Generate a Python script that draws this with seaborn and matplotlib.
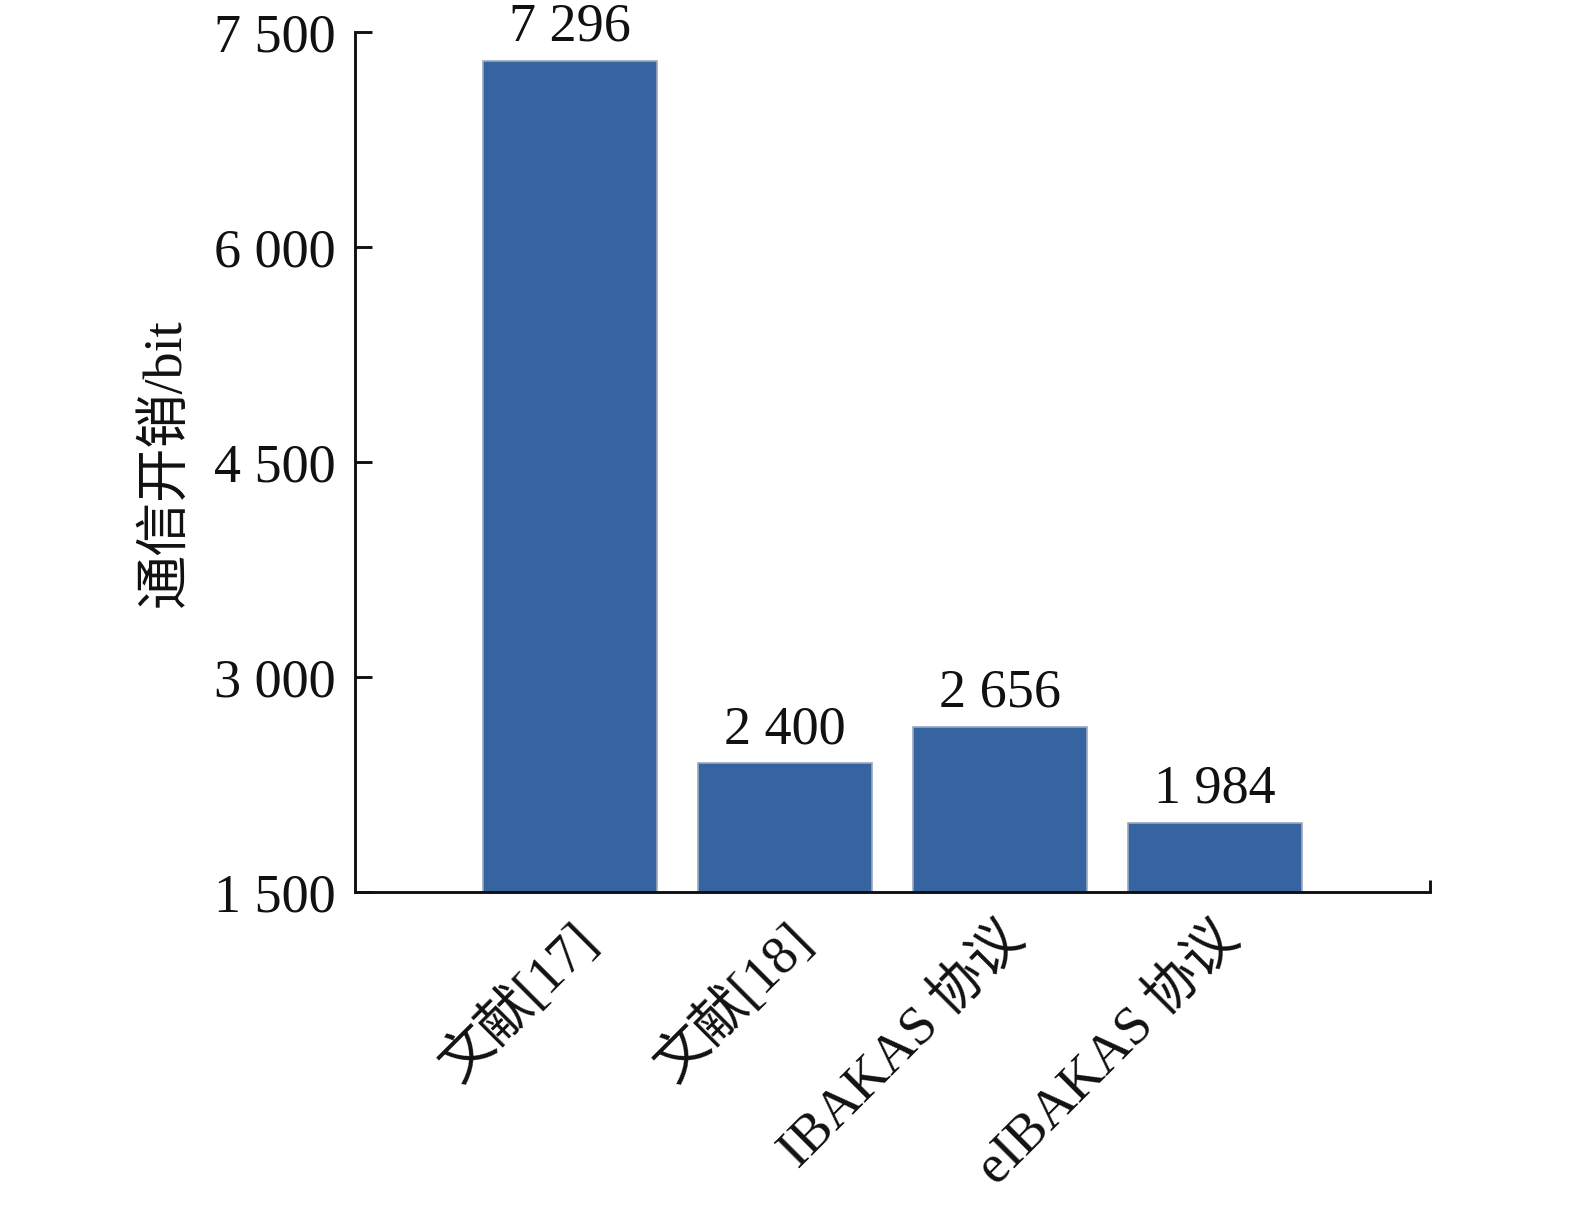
import matplotlib
matplotlib.use("Agg")
import matplotlib.pyplot as plt
import seaborn as sns
import pandas as pd

# data
methods = ["文献[17]", "文献[18]", "IBAKAS 协议", "eIBAKAS 协议"]
overhead = [7296, 2400, 2656, 1984]
y_ticks = [1500, 3000, 4500, 6000, 7500]

BAR_COLOR = "#3564a0"
INK = "#111111"


def fmt(v):
    return f"{v:,}".replace(",", " ")


sns.set_theme(style="ticks")
plt.rcParams["font.family"] = ["Liberation Serif", "Noto Sans CJK SC"]

df = pd.DataFrame({"method": methods, "overhead": overhead})

fig = plt.figure(figsize=(15.75, 12.06), dpi=100)
ax = fig.add_axes([0.2254, 0.2600, 0.9079 - 0.2254, 0.9735 - 0.2600])

sns.barplot(data=df, x="method", y="overhead", color=BAR_COLOR, width=0.81,
            saturation=1, edgecolor="#9aa8bd", linewidth=1.2, ax=ax)

ax.bar_label(ax.containers[0], labels=[fmt(v) for v in overhead],
             padding=6, fontsize=39, color=INK)

ax.set_ylim(1500, 7500)
ax.set_yticks(y_ticks)
ax.set_yticklabels([fmt(v) for v in y_ticks], fontsize=39, color=INK)
ax.set_xlim(-1, 4)
ax.set_xticks(range(5))
ax.set_xticklabels(methods + [""], fontsize=39, rotation=45, ha="right",
                   rotation_mode="anchor", color=INK)

ax.set_xlabel("")
ax.set_ylabel("通信开销/bit", fontsize=39, color=INK, labelpad=16)

for side in ["top", "right"]:
    ax.spines[side].set_visible(False)
for side in ["left", "bottom"]:
    ax.spines[side].set_linewidth(2.1)
    ax.spines[side].set_color(INK)

ax.tick_params(axis="y", direction="in", length=12, width=2.1, pad=14, colors=INK)
ax.tick_params(axis="x", direction="in", length=9, width=2.1, pad=16, colors=INK)

fig.savefig("out.png", dpi=100)
plt.close(fig)
